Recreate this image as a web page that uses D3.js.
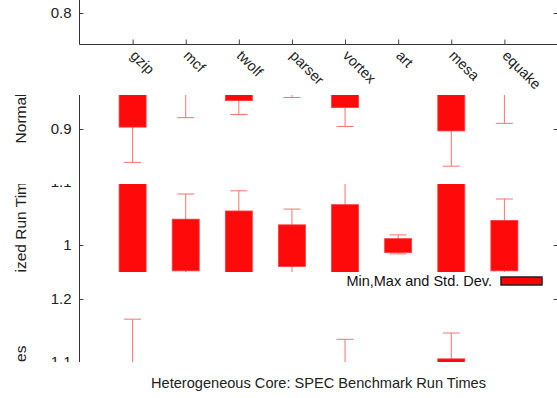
<!DOCTYPE html>
<html>
<head>
<meta charset="utf-8">
<script src="https://cdn.jsdelivr.net/npm/d3@7"></script>
<style>
  body { margin: 0; background: #fff; }
  svg { display: block; font-family: "Liberation Sans", Arial, sans-serif; }
</style>
</head>
<body>
<div id="chart"></div>
<script>
// benchmarks and their run-time spread (normalized)
var benchmarks = ["gzip", "mcf", "twolf", "parser", "vortex", "art", "mesa", "equake"];
var minVals  = [0.847, 0.918, 0.923, 0.950, 0.904, 0.986, 0.841, 0.909];
var boxLow   = [0.903, 0.959, 0.945, 0.966, 0.934, 0.988, 0.897, 0.959];
var boxHigh  = [1.098, 1.041, 1.054, 1.032, 1.064, 1.010, 1.105, 1.039];
var maxVals  = [1.168, 1.081, 1.086, 1.057, 1.136, 1.016, 1.146, 1.073];
var yTicks   = [0.8, 0.9, 1.0, 1.1, 1.2];

var data = benchmarks.map(function(b, i) {
  return { name: b, i: i + 1, lo: minVals[i], q1: boxLow[i], q3: boxHigh[i], hi: maxVals[i] };
});

var width = 557, height = 398;

var svg = d3.select("#chart").append("svg")
  .attr("width", width)
  .attr("height", height);

var x = d3.scaleLinear().domain([0, 9]).range([79.5, 557.5]);
var y = d3.scaleLinear().domain([0.75, 1.25]).range([315, 0]);

// the picture is cut in horizontal bands stacked in reverse order
var strips = [
  { top: 0,   bottom: 95,  shift: -270.5 },
  { top: 95,  bottom: 184, shift: -91.5 },
  { top: 184, bottom: 272, shift: 87.5 },
  { top: 272, bottom: 362, shift: 267.5 }
];

var defs = svg.append("defs");

strips.forEach(function(s, k) {
  defs.append("clipPath").attr("id", "strip" + k)
    .append("rect")
    .attr("x", 0).attr("y", s.top)
    .attr("width", width).attr("height", s.bottom - s.top);

  var g = svg.append("g").attr("clip-path", "url(#strip" + k + ")")
    .append("g")
    .attr("transform", "translate(0," + s.shift + ")");
  drawChart(g);
});

function drawChart(g) {
  // whiskers
  var w = g.selectAll(".whisker").data(data).enter().append("g")
    .attr("class", "whisker")
    .style("stroke", "#ff7070")
    .style("stroke-width", 1);
  w.append("line")
    .attr("x1", d => x(d.i)).attr("x2", d => x(d.i))
    .attr("y1", d => y(d.lo)).attr("y2", d => y(d.hi));
  w.append("line")
    .attr("x1", d => x(d.i) - 8.5).attr("x2", d => x(d.i) + 8.5)
    .attr("y1", d => y(d.lo)).attr("y2", d => y(d.lo));
  w.append("line")
    .attr("x1", d => x(d.i) - 8.5).attr("x2", d => x(d.i) + 8.5)
    .attr("y1", d => y(d.hi)).attr("y2", d => y(d.hi));

  // std dev boxes
  g.selectAll(".box").data(data).enter().append("rect")
    .attr("class", "box")
    .attr("x", d => x(d.i) - 13.5)
    .attr("width", 27)
    .attr("y", d => y(d.q3))
    .attr("height", d => y(d.q1) - y(d.q3))
    .style("fill", "#ff0a0a")
    .style("stroke", "#ff3a3a")
    .style("stroke-width", 0.8);

  // frame
  var r = y.range();
  g.append("path")
    .attr("d", "M" + x(9) + "," + r[1] + "H" + x(0) + "V" + r[0] + "H" + x(9) + "Z")
    .style("fill", "none")
    .style("stroke", "#333")
    .style("stroke-width", 1);

  // y axis
  var yl = g.append("g")
    .attr("transform", "translate(" + x(0) + ",0)")
    .call(d3.axisLeft(y).tickValues(yTicks).tickSize(-4).tickPadding(8)
      .tickFormat(d3.format("~g")));
  yl.select(".domain").remove();
  yl.selectAll("line").style("stroke", "#444");
  yl.selectAll("text").style("font-size", "15px").style("fill", "#222")
    .style("font-family", "'Liberation Sans', Arial, sans-serif");

  var yr = g.append("g")
    .attr("transform", "translate(" + x(9) + ",0)")
    .call(d3.axisRight(y).tickValues(yTicks).tickSize(-4).tickFormat(""));
  yr.select(".domain").remove();
  yr.selectAll("line").style("stroke", "#444");

  // x axis
  var xa = g.append("g")
    .attr("transform", "translate(0," + y(0.75) + ")")
    .call(d3.axisBottom(x).tickValues(data.map(d => d.i)).tickSize(-5)
      .tickFormat(""));
  xa.select(".domain").remove();
  xa.selectAll("line").style("stroke", "#444");

  g.selectAll(".xlab").data(data).enter().append("text")
    .attr("class", "xlab")
    .attr("transform", d => "translate(" + (x(d.i) - 3) + "," + (y(0.75) + 12) + ") rotate(45)")
    .style("font-size", "14.5px")
    .style("fill", "#222")
    .text(d => d.name);

  // y label
  g.append("text")
    .attr("transform", "translate(26," + (y(1.0) - 1) + ") rotate(-90)")
    .attr("text-anchor", "middle")
    .style("font-size", "15.5px")
    .style("fill", "#222")
    .text("Normalized Run Times");

  // legend
  g.append("text")
    .attr("x", 492).attr("y", 18.5)
    .attr("text-anchor", "end")
    .style("font-size", "14.5px")
    .style("fill", "#111")
    .text("Min,Max and Std. Dev.");
  g.append("rect")
    .attr("x", 501).attr("y", 9.5)
    .attr("width", 41).attr("height", 8)
    .style("fill", "#ff0000")
    .style("stroke", "#222")
    .style("stroke-width", 1.5);
}

svg.append("text")
  .attr("x", 318.5).attr("y", 388)
  .attr("text-anchor", "middle")
  .style("font-size", "14.6px")
  .style("fill", "#222")
  .text("Heterogeneous Core:  SPEC Benchmark Run Times");
</script>
</body>
</html>
